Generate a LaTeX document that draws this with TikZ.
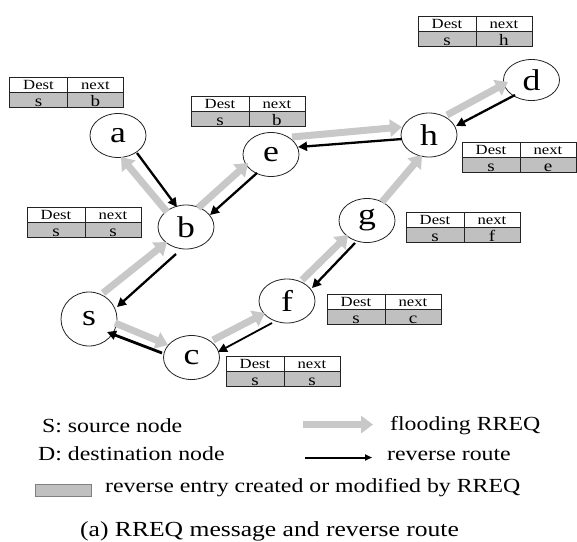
\documentclass[tikz,border=0pt]{standalone}
\usepackage{fontspec}
\setmainfont{Liberation Serif}[FakeStretch=1.19]
\usetikzlibrary{arrows.meta,calc,shapes.geometric}
\definecolor{floodgray}{RGB}{200,200,200}
\definecolor{entrygray}{RGB}{192,192,192}
\definecolor{linegray}{RGB}{35,35,35}
\tikzset{
  nd/.style={ellipse, draw=linegray, line width=0.8pt, minimum width=56pt, minimum height=44pt, inner sep=0pt, fill=white, font=\fontsize{30}{30}\selectfont},
  tblline/.style={draw=linegray, line width=0.8pt},
  hdrtxt/.style={anchor=base, inner sep=0pt, font=\fontsize{14}{14}\selectfont},
  valtxt/.style={anchor=base, inner sep=0pt, font=\fontsize{16}{16}\selectfont},
  flood/.style={draw=floodgray, line width=7pt, -{Triangle[width=17pt,length=12pt]}},
  rev/.style={draw=black, line width=2.3pt, -{Triangle[width=9pt,length=9pt]}},
  revleg/.style={draw=black, line width=2pt, -{Triangle[width=6pt,length=7pt]}},
  lgd/.style={anchor=base west, inner sep=0pt, font=\fontsize{20}{24}\selectfont},
  captxt/.style={anchor=base west, inner sep=0pt, font=\fontsize{21.5}{26}\selectfont}
}
\newcommand{\rtab}[4]{%
  \begin{scope}[shift={#2}]
    \fill[white] (0,0) rectangle (114,15);
    \fill[entrygray] (0,15) rectangle (114,30);
    \draw[tblline] (0,0) rectangle (114,30);
    \draw[tblline] (0,15) -- (114,15);
    \draw[tblline] (58,0) -- (58,30);
    \node[hdrtxt] (#1-dh) at (29,12) {Dest};
    \node[hdrtxt] (#1-nh) at (86,12) {next};
    \node[valtxt] (#1-dv) at (29,29.5) {#3};
    \node[valtxt] (#1-nv) at (86,29.5) {#4};
  \end{scope}}
\begin{document}
\begin{tikzpicture}[x=1pt, y=-1pt]
\fill[white] (0,0) rectangle (577,541);
\useasboundingbox (0,0) rectangle (577,541);

% routing tables
\rtab{ta}{(9.5,77)}{s}{b}
\rtab{tb}{(27,207)}{s}{s}
\rtab{te}{(191,96)}{s}{b}
\rtab{td}{(418,16)}{s}{h}
\rtab{th}{(462,142)}{s}{e}
\rtab{tg}{(406,212)}{s}{f}
\rtab{tf}{(327,294)}{s}{c}
\rtab{tc}{(226,356)}{s}{s}

% nodes
\node[nd] (a) at (118,135.5) {a};
\node[nd] (b) at (186,227) {b};
\node[nd, minimum height=54pt] (s) at (89,319) {s};
\node[nd] (c) at (191.5,357.5) {c};
\node[nd] (f) at (287,301) {f};
\node[nd] (g) at (367,220.5) {g};
\node[nd] (e) at (271,154.5) {e};
\node[nd] (h) at (429,135) {h};
\node[nd, minimum height=41pt] (d) at (531.5,80) {d};

% flooding RREQ (gray) and reverse route (black)
\draw[flood] ($(b)+(-19,-15)$) -- ($(a)+(3,21.5)$);
\draw[rev]   ($(a)+(19,17.5)$) -- ($(b)+(-9,-20)$);

\draw[flood] ($(s)+(14,-26)$) -- ($(b)+(-19,15)$);
\draw[rev]   ($(b)+(-10,27)$) -- ($(s)+(28,-12)$);

\draw[flood] ($(b)+(12,-19)$) -- ($(e)+(-23,8.5)$);
\draw[rev]   ($(e)+(-14,18.5)$) -- ($(b)+(24,-12)$);

\draw[flood] ($(e)+(21,-17.5)$) -- ($(h)+(-27,-8)$);
\draw[rev]   ($(h)+(-27,4)$) -- ($(e)+(27,-7.5)$);

\draw[flood] ($(g)+(15,-18.5)$) -- ($(h)+(-7,20)$);

\draw[flood] ($(h)+(18,-20)$) -- ($(d)+(-23.5,2)$);
\draw[rev]   ($(d)+(-16.5,15)$) -- ($(h)+(27,-9)$);

\draw[flood] ($(s)+(26,4)$) -- ($(c)+(-23.5,-12.5)$);
\draw[rev, line width=2.8pt] ($(c)+(-29.5,-4.5)$) -- ($(s)+(18,13)$);

\draw[flood] ($(c)+(21.5,-17.5)$) -- ($(f)+(-22,12)$);
\draw[rev, line width=1.8pt] ($(f)+(-15,22)$) -- ($(c)+(26.5,-5.5)$);

\draw[flood] ($(f)+(15,-21)$) -- ($(g)+(-19,14.5)$);
\draw[rev]   ($(g)+(-12,22.5)$) -- ($(f)+(25,-13)$);

% legend
\node[lgd] (ls) at (42,432) {S: source node};
\node[lgd] (ld) at (38,460) {D: destination node};
\coordinate (fl1) at (303,424.5);
\coordinate (fl2) at (373,424.5);
\draw[flood] (fl1) -- (fl2);
\node[lgd] (lf) at (390,430) {flooding RREQ};
\coordinate (rv1) at (305,457.5);
\coordinate (rv2) at (372,457.5);
\draw[revleg] (rv1) -- (rv2);
\node[lgd] (lr) at (387,460) {reverse route};
\node[draw=gray, line width=0.8pt, fill=entrygray, minimum width=56pt, minimum height=12pt, inner sep=0pt, anchor=north west] (lbox) at (35,484) {};
\node[lgd] (le) at (105,492) {reverse entry created or modified by RREQ};
\node[captxt] (cap) at (80,536) {(a) RREQ message and reverse route};
\end{tikzpicture}
\end{document}
